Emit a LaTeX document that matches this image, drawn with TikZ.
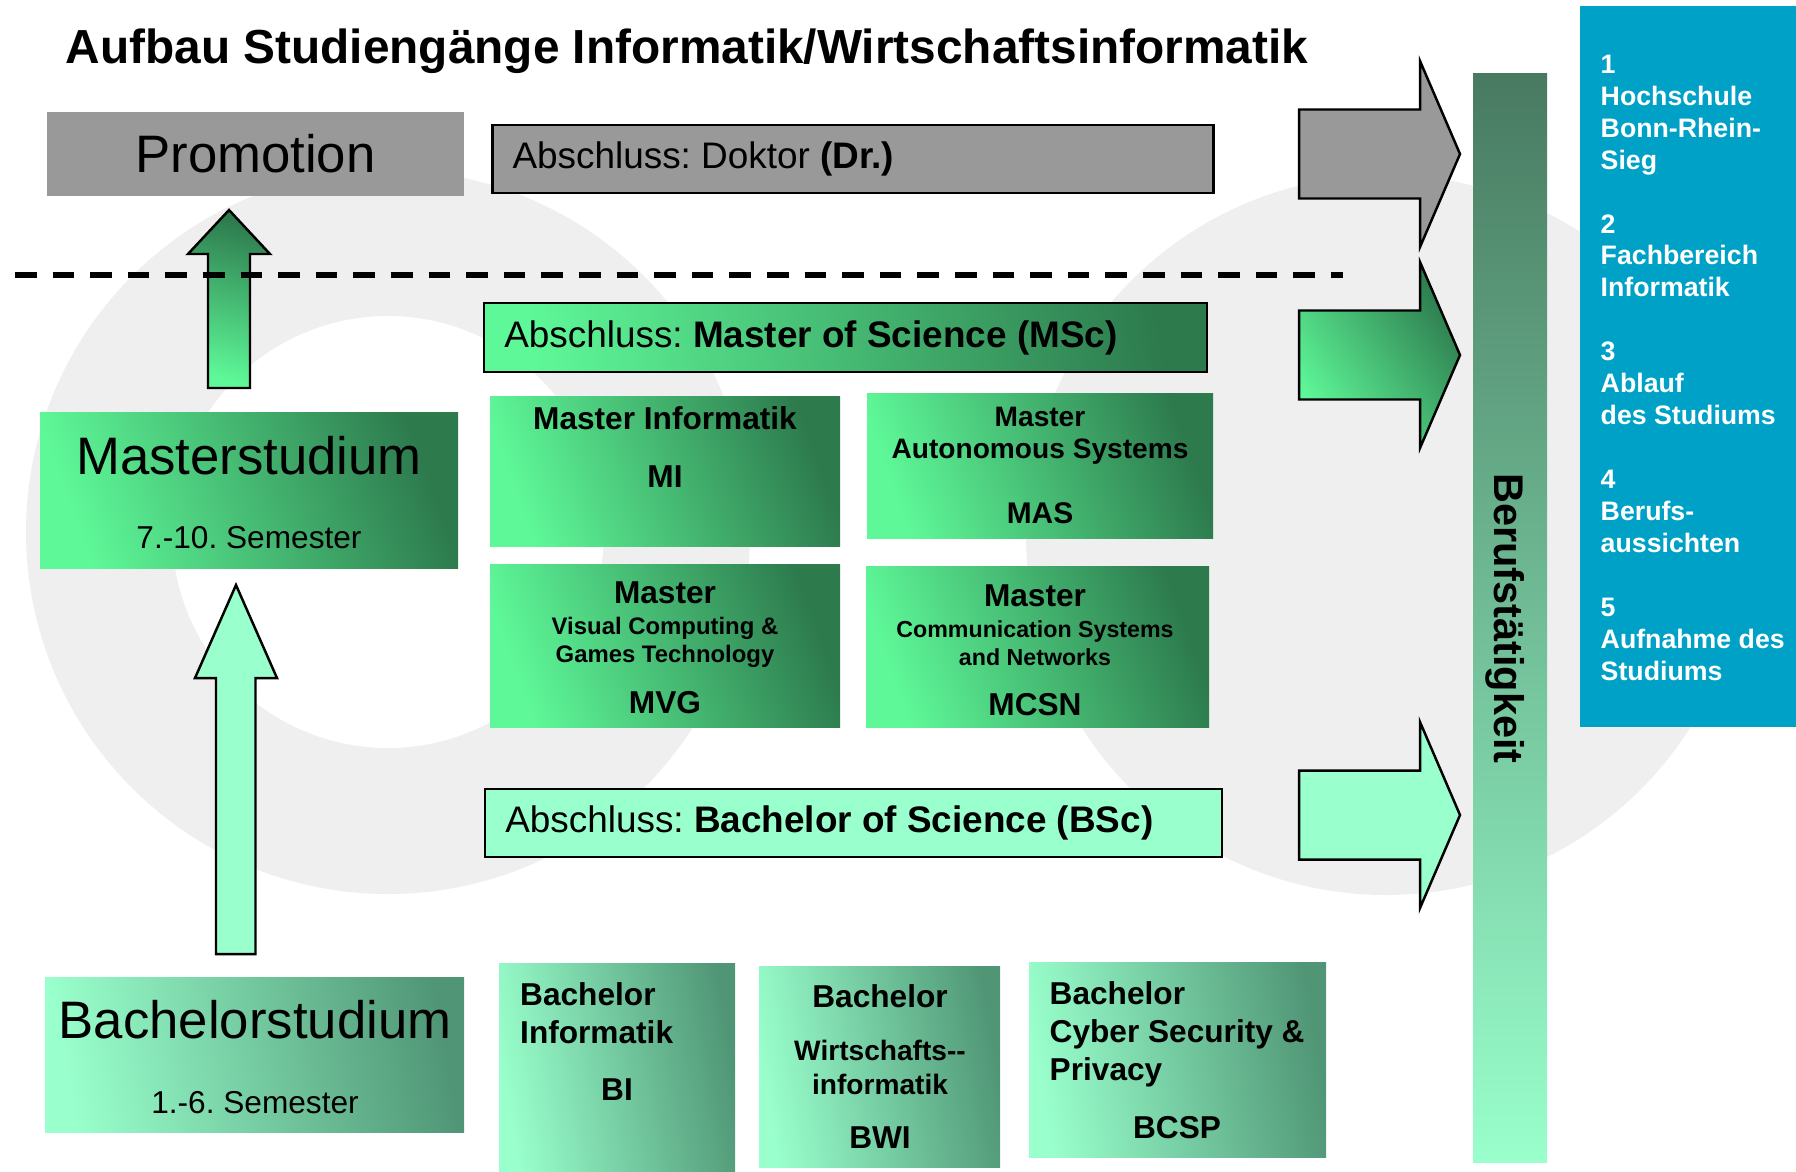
\documentclass[tikz,border=0pt]{standalone}
\usepackage{fontspec}
\setmainfont{Liberation Sans}
\usetikzlibrary{positioning}
\frenchspacing
\definecolor{bggray}{RGB}{239,239,239}
\definecolor{boxgray}{RGB}{153,153,153}
\definecolor{mint}{RGB}{153,255,204}
\definecolor{mlight}{RGB}{94,248,152}
\definecolor{mdark}{RGB}{45,122,77}
\definecolor{bdark}{RGB}{80,150,118}
\definecolor{bartop}{RGB}{72,122,97}
\definecolor{hbrsblue}{RGB}{0,161,199}
\begin{document}
\begin{tikzpicture}[x=1cm,y=-1cm,
    tx/.style={inner sep=0,anchor=base},
    big/.style={tx,font=\fontsize{15}{18}\selectfont},
    sem/.style={tx,font=\fontsize{9}{11}\selectfont},
    prog/.style={tx,font=\fontsize{#1}{12}\selectfont\bfseries},
    prog/.default=9,
    abs/.style={inner sep=0,right=2.1mm,font=\fontsize{10.5}{13}\selectfont},
    absbox/.style={draw,line width=0.8pt,inner sep=0,minimum height=0.68cm},
    mastbox/.style={inner sep=0,left color=mlight,right color=mdark,shading angle=110},
    bachbox/.style={inner sep=0,left color=mint,right color=bdark,shading angle=100},
    blk/.style={draw,line width=0.7pt,line join=miter},
    arrgray/.style={fill=boxgray},
    arrgreen/.style={left color=mlight,right color=mdark,shading angle=125},
    arrmint/.style={fill=mint}]
\useasboundingbox (0,0) rectangle (17.96,11.71);
% background logo
\fill[bggray,even odd rule] (3.88,5.32) circle[radius=3.62cm] (3.88,5.32) circle[radius=2.16cm];
\fill[bggray] (13.86,5.35) circle[radius=3.60cm];
\node[anchor=base west,inner sep=0,font=\fontsize{13.6}{16}\selectfont\bfseries] (title) at (0.65,0.63) {Aufbau Studiengänge Informatik/Wirtschaftsinformatik};
% Promotion
\node[fill=boxgray,minimum width=4.17cm,minimum height=0.84cm,inner sep=0,font=\fontsize{15}{18}\selectfont] (promo) at (2.555,1.54) {Promotion};
\node[absbox,fill=boxgray,minimum width=7.215cm] (doc) at (8.53,1.59) {};
\node[abs] (docT) at (doc.west) {Abschluss: Doktor \textbf{(Dr.)}};
\draw[blk,top color=mdark,bottom color=mlight,shading angle=-15] (2.08,3.88) -- (2.08,2.54) -- (1.88,2.54) -- (2.29,2.10) -- (2.70,2.54) -- (2.50,2.54) -- (2.50,3.88) -- cycle;
\draw[line width=1.6pt,dash pattern=on 0.217cm off 0.159cm] (0.15,2.75) -- (13.43,2.75);
% Master
\node[absbox,left color=mlight,right color=mdark,shading angle=100,minimum width=7.23cm,minimum height=0.69cm] (msc) at (8.455,3.375) {};
\node[abs] (mscT) at (msc.west) {Abschluss: \textbf{Master of Science (MSc)}};
\node[mastbox,minimum width=4.18cm,minimum height=1.56cm] (mstud) at (2.49,4.90) {};
\node[big] (mstudT) at (2.49,4.74) {Masterstudium};
\node[sem] (mstudS) at (2.49,5.48) {7.-10. Semester};
\node[mastbox,minimum width=3.5cm,minimum height=1.5cm] (mi) at (6.65,4.71) {};
\node[prog] (miT) at (6.65,4.29) {Master Informatik};
\node[prog] (miK) at (6.65,4.87) {MI};
\node[mastbox,minimum width=3.46cm,minimum height=1.45cm] (mas) at (10.40,4.655) {};
\node[prog=8] (masT) at (10.40,4.26) {Master};
\node[prog=8] (masS) at (10.40,4.58) {Autonomous Systems};
\node[prog=8.5] (masK) at (10.40,5.23) {MAS};
\node[mastbox,minimum width=3.5cm,minimum height=1.63cm] (mvg) at (6.65,6.455) {};
\node[prog] (mvgT) at (6.65,6.03) {Master};
\node[prog=6.8] (mvgS) at (6.65,6.34) {Visual Computing \&};
\node[prog=6.8] (mvgR) at (6.65,6.62) {Games Technology};
\node[prog] (mvgK) at (6.65,7.13) {MVG};
\node[mastbox,minimum width=3.43cm,minimum height=1.61cm] (mcsn) at (10.375,6.465) {};
\node[prog] (mcsnT) at (10.35,6.06) {Master};
\node[prog=6.6] (mcsnS) at (10.35,6.37) {Communication Systems};
\node[prog=6.6] (mcsnR) at (10.35,6.65) {and Networks};
\node[prog] (mcsnK) at (10.35,7.15) {MCSN};
% Bachelor
\node[absbox,fill=mint,minimum width=7.37cm] (bsc) at (8.535,8.23) {};
\node[abs] (bscT) at (bsc.west) {Abschluss: \textbf{Bachelor of Science (BSc)}};
\draw[blk,fill=mint] (2.16,9.54) -- (2.16,6.78) -- (1.95,6.78) -- (2.36,5.85) -- (2.77,6.78) -- (2.555,6.78) -- (2.555,9.54) -- cycle;
\node[bachbox,minimum width=4.19cm,minimum height=1.55cm] (bstud) at (2.545,10.545) {};
\node[big] (bstudT) at (2.55,10.38) {Bachelorstudium};
\node[sem] (bstudS) at (2.55,11.13) {1.-6. Semester};
\node[bachbox,minimum width=2.36cm,minimum height=2.08cm] (bi) at (6.17,10.67) {};
\node[prog,anchor=base west] (biT) at (5.195,10.05) {Bachelor};
\node[prog,anchor=base west] (biS) at (5.195,10.43) {Informatik};
\node[prog] (biK) at (6.17,11.00) {BI};
\node[bachbox,minimum width=2.41cm,minimum height=2.01cm] (bwi) at (8.795,10.665) {};
\node[prog] (bwiT) at (8.80,10.07) {Bachelor};
\node[prog=8] (bwiS) at (8.80,10.60) {Wirtschafts-{}-};
\node[prog=8] (bwiR) at (8.80,10.94) {informatik};
\node[prog] (bwiK) at (8.80,11.48) {BWI};
\node[bachbox,minimum width=2.97cm,minimum height=1.95cm] (bcsp) at (11.775,10.595) {};
\node[prog,anchor=base west] (bcspT) at (10.49,10.04) {Bachelor};
\node[prog,anchor=base west] (bcspS) at (10.49,10.42) {Cyber Security \&};
\node[prog,anchor=base west] (bcspR) at (10.49,10.80) {Privacy};
\node[prog] (bcspK) at (11.77,11.38) {BCSP};
% arrows to the job bar
\foreach \y/\s in {1.54/arrgray,3.55/arrgreen,8.15/arrmint}
  \draw[blk,\s] (12.99,\y-0.445) -- (14.20,\y-0.445) -- (14.20,\y-0.93) -- (14.60,\y) -- (14.20,\y+0.93) -- (14.20,\y+0.445) -- (12.99,\y+0.445) -- cycle;
\node[inner sep=0,minimum width=0.74cm,minimum height=10.89cm,top color=bartop,bottom color=mint] (bar) at (15.10,6.175) {};
\node[rotate=-90,inner sep=0,font=\fontsize{11.8}{14}\selectfont\bfseries] (beruf) at (15.05,6.185) {Berufstätigkeit};
% side menu
\node[fill=hbrsblue,minimum width=2.16cm,minimum height=7.21cm,inner sep=0] (side) at (16.88,3.665) {};
\node[anchor=north west,inner sep=0,align=left,text=white,font=\fontsize{7.6}{9.1}\selectfont\bfseries] (menu) at (16.00,0.54) {1\\Hochschule\\Bonn-Rhein-\\Sieg\\[9.1pt]2\\Fachbereich\\Informatik\\[9.1pt]3\\Ablauf\\des Studiums\\[9.1pt]4\\Berufs-\\aussichten\\[9.1pt]5\\Aufnahme des\\Studiums};
\end{tikzpicture}
\end{document}
